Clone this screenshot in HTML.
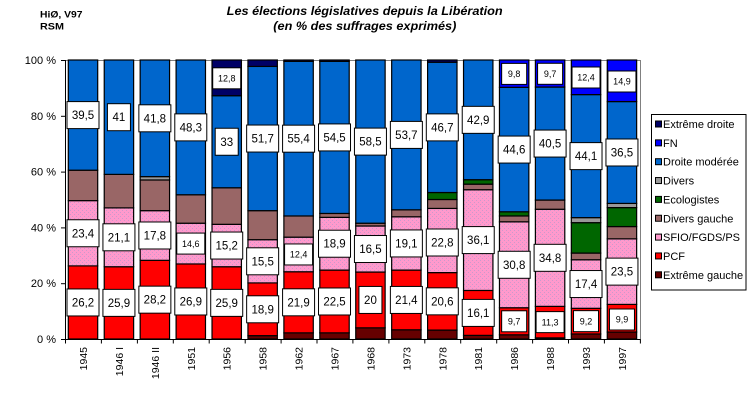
<!DOCTYPE html>
<html>
<head>
<meta charset="utf-8">
<style>
  html,body{margin:0;padding:0;background:#fff;}
  svg{display:block;font-family:"Liberation Sans", Arial, sans-serif;}
  .L rect{fill:#fff;stroke:#000;stroke-width:1;}
  .L text{font-size:11.5px;text-anchor:middle;fill:#000;}
  .S rect{fill:#fff;stroke:#000;stroke-width:1;}
  .S text{font-size:9px;text-anchor:middle;fill:#000;}
  .yl{font-size:11px;text-anchor:end;}
  .xl{font-size:10.5px;text-anchor:end;}
  .lg{font-size:11px;}
</style>
</head>
<body>
<svg width="750" height="400" viewBox="0 0 750 400" xmlns="http://www.w3.org/2000/svg">
  <defs>
    <pattern id="pk" width="4" height="4" patternUnits="userSpaceOnUse">
      <rect width="4" height="4" fill="#FF99CC"/>
      <rect x="0" y="0" width="1" height="1" fill="#CC99CC"/>
      <rect x="2" y="2" width="1" height="1" fill="#CC99CC"/>
    </pattern>
  </defs>
  <rect width="750" height="400" fill="#fff"/>

  <!-- header -->
  <text x="40" y="17.3" font-size="9.5" font-weight="bold" textLength="42.5" lengthAdjust="spacingAndGlyphs">HiØ, V97</text>
  <text x="40" y="29.3" font-size="9.5" font-weight="bold" textLength="24" lengthAdjust="spacingAndGlyphs">RSM</text>

  <!-- title -->
  <text x="226.7" y="15" font-size="12" font-weight="bold" font-style="italic" textLength="276" lengthAdjust="spacingAndGlyphs">Les élections législatives depuis la Libération</text>
  <text x="273.3" y="30" font-size="12" font-weight="bold" font-style="italic" textLength="183" lengthAdjust="spacingAndGlyphs">(en % des suffrages exprimés)</text>

  <!-- plot frame -->
  <line x1="65" y1="60.5" x2="640.5" y2="60.5" stroke="#808080" stroke-width="1"/>
  <line x1="640.5" y1="60" x2="640.5" y2="339" stroke="#808080" stroke-width="1"/>

  <!-- bars -->
  <g stroke="#000" stroke-width="1.2">
    <!-- 1945 -->
    <rect x="68.3" y="265.9" width="29.4" height="73.1" fill="#FF0000"/>
    <rect x="68.3" y="200.62" width="29.4" height="65.28" fill="url(#pk)"/>
    <rect x="68.3" y="170.2" width="29.4" height="30.42" fill="#996666"/>
    <rect x="68.3" y="60" width="29.4" height="110.2" fill="#0066CC"/>
    <!-- 1946 I -->
    <rect x="104.23" y="266.74" width="29.4" height="72.26" fill="#FF0000"/>
    <rect x="104.23" y="207.87" width="29.4" height="58.87" fill="url(#pk)"/>
    <rect x="104.23" y="174.39" width="29.4" height="33.48" fill="#996666"/>
    <rect x="104.23" y="60" width="29.4" height="114.39" fill="#0066CC"/>
    <!-- 1946 II -->
    <rect x="140.16" y="260.32" width="29.4" height="78.68" fill="#FF0000"/>
    <rect x="140.16" y="210.66" width="29.4" height="49.66" fill="url(#pk)"/>
    <rect x="140.16" y="179.97" width="29.4" height="30.69" fill="#996666"/>
    <rect x="140.16" y="176.62" width="29.4" height="3.35" fill="#999999"/>
    <rect x="140.16" y="60" width="29.4" height="116.62" fill="#0066CC"/>
    <!-- 1951 -->
    <rect x="176.09" y="263.95" width="29.4" height="75.05" fill="#FF0000"/>
    <rect x="176.09" y="223.21" width="29.4" height="40.74" fill="url(#pk)"/>
    <rect x="176.09" y="194.76" width="29.4" height="28.45" fill="#996666"/>
    <rect x="176.09" y="60" width="29.4" height="134.76" fill="#0066CC"/>
    <!-- 1956 -->
    <rect x="212.02" y="266.74" width="29.4" height="72.26" fill="#FF0000"/>
    <rect x="212.02" y="224.33" width="29.4" height="42.41" fill="url(#pk)"/>
    <rect x="212.02" y="187.78" width="29.4" height="36.55" fill="#996666"/>
    <rect x="212.02" y="95.71" width="29.4" height="92.07" fill="#0066CC"/>
    <rect x="212.02" y="60" width="29.4" height="35.71" fill="#000066"/>
    <!-- 1958 -->
    <rect x="247.95" y="335.65" width="29.4" height="3.35" fill="#660000"/>
    <rect x="247.95" y="282.92" width="29.4" height="52.73" fill="#FF0000"/>
    <rect x="247.95" y="239.68" width="29.4" height="43.24" fill="url(#pk)"/>
    <rect x="247.95" y="210.66" width="29.4" height="29.02" fill="#996666"/>
    <rect x="247.95" y="66.42" width="29.4" height="144.24" fill="#0066CC"/>
    <rect x="247.95" y="60" width="29.4" height="6.42" fill="#000066"/>
    <!-- 1962 -->
    <rect x="283.88" y="332.86" width="29.4" height="6.14" fill="#660000"/>
    <rect x="283.88" y="271.76" width="29.4" height="61.1" fill="#FF0000"/>
    <rect x="283.88" y="237.16" width="29.4" height="34.6" fill="url(#pk)"/>
    <rect x="283.88" y="215.96" width="29.4" height="21.2" fill="#996666"/>
    <rect x="283.88" y="61.39" width="29.4" height="154.57" fill="#0066CC"/>
    <rect x="283.88" y="60" width="29.4" height="1.39" fill="#000066"/>
    <!-- 1967 -->
    <rect x="319.81" y="332.86" width="29.4" height="6.14" fill="#660000"/>
    <rect x="319.81" y="270.09" width="29.4" height="62.77" fill="#FF0000"/>
    <rect x="319.81" y="217.36" width="29.4" height="52.73" fill="url(#pk)"/>
    <rect x="319.81" y="213.45" width="29.4" height="3.91" fill="#996666"/>
    <rect x="319.81" y="61.39" width="29.4" height="152.06" fill="#0066CC"/>
    <rect x="319.81" y="60" width="29.4" height="1.39" fill="#000066"/>
    <!-- 1968 -->
    <rect x="355.74" y="327.84" width="29.4" height="11.16" fill="#660000"/>
    <rect x="355.74" y="272.04" width="29.4" height="55.8" fill="#FF0000"/>
    <rect x="355.74" y="226" width="29.4" height="46.04" fill="url(#pk)"/>
    <rect x="355.74" y="223.21" width="29.4" height="2.79" fill="#996666"/>
    <rect x="355.74" y="60" width="29.4" height="163.21" fill="#0066CC"/>
    <!-- 1973 -->
    <rect x="391.67" y="329.79" width="29.4" height="9.21" fill="#660000"/>
    <rect x="391.67" y="270.09" width="29.4" height="59.7" fill="#FF0000"/>
    <rect x="391.67" y="216.8" width="29.4" height="53.29" fill="url(#pk)"/>
    <rect x="391.67" y="209.82" width="29.4" height="6.98" fill="#996666"/>
    <rect x="391.67" y="60" width="29.4" height="149.82" fill="#0066CC"/>
    <!-- 1978 -->
    <rect x="427.6" y="330.07" width="29.4" height="8.93" fill="#660000"/>
    <rect x="427.6" y="272.6" width="29.4" height="57.47" fill="#FF0000"/>
    <rect x="427.6" y="208.43" width="29.4" height="64.17" fill="url(#pk)"/>
    <rect x="427.6" y="199.5" width="29.4" height="8.93" fill="#996666"/>
    <rect x="427.6" y="192.52" width="29.4" height="6.98" fill="#006600"/>
    <rect x="427.6" y="62.23" width="29.4" height="130.29" fill="#0066CC"/>
    <rect x="427.6" y="60" width="29.4" height="2.23" fill="#000066"/>
    <!-- 1981 -->
    <rect x="463.53" y="335.37" width="29.4" height="3.63" fill="#660000"/>
    <rect x="463.53" y="290.45" width="29.4" height="44.92" fill="#FF0000"/>
    <rect x="463.53" y="189.73" width="29.4" height="100.72" fill="url(#pk)"/>
    <rect x="463.53" y="184.15" width="29.4" height="5.58" fill="#996666"/>
    <rect x="463.53" y="179.69" width="29.4" height="4.46" fill="#006600"/>
    <rect x="463.53" y="60" width="29.4" height="119.69" fill="#0066CC"/>
    <!-- 1986 -->
    <rect x="499.46" y="334.81" width="29.4" height="4.19" fill="#660000"/>
    <rect x="499.46" y="307.75" width="29.4" height="27.06" fill="#FF0000"/>
    <rect x="499.46" y="221.82" width="29.4" height="85.93" fill="url(#pk)"/>
    <rect x="499.46" y="215.96" width="29.4" height="5.86" fill="#996666"/>
    <rect x="499.46" y="211.78" width="29.4" height="4.18" fill="#006600"/>
    <rect x="499.46" y="87.34" width="29.4" height="124.44" fill="#0066CC"/>
    <rect x="499.46" y="60" width="29.4" height="27.34" fill="#0000FF"/>
    <!-- 1988 -->
    <rect x="535.39" y="337.88" width="29.4" height="1.12" fill="#660000"/>
    <rect x="535.39" y="306.36" width="29.4" height="31.52" fill="#FF0000"/>
    <rect x="535.39" y="209.26" width="29.4" height="97.1" fill="url(#pk)"/>
    <rect x="535.39" y="200.06" width="29.4" height="9.2" fill="#996666"/>
    <rect x="535.39" y="87.06" width="29.4" height="113" fill="#0066CC"/>
    <rect x="535.39" y="60" width="29.4" height="27.06" fill="#0000FF"/>
    <!-- 1993 -->
    <rect x="571.32" y="333.98" width="29.4" height="5.02" fill="#660000"/>
    <rect x="571.32" y="308.31" width="29.4" height="25.67" fill="#FF0000"/>
    <rect x="571.32" y="259.76" width="29.4" height="48.55" fill="url(#pk)"/>
    <rect x="571.32" y="253.07" width="29.4" height="6.69" fill="#996666"/>
    <rect x="571.32" y="222.66" width="29.4" height="30.41" fill="#006600"/>
    <rect x="571.32" y="217.63" width="29.4" height="5.03" fill="#999999"/>
    <rect x="571.32" y="94.6" width="29.4" height="123.03" fill="#0066CC"/>
    <rect x="571.32" y="60" width="29.4" height="34.6" fill="#0000FF"/>
    <!-- 1997 -->
    <rect x="607.25" y="332.02" width="29.4" height="6.98" fill="#660000"/>
    <rect x="607.25" y="304.4" width="29.4" height="27.62" fill="#FF0000"/>
    <rect x="607.25" y="238.84" width="29.4" height="65.56" fill="url(#pk)"/>
    <rect x="607.25" y="226.56" width="29.4" height="12.28" fill="#996666"/>
    <rect x="607.25" y="207.59" width="29.4" height="18.97" fill="#006600"/>
    <rect x="607.25" y="203.41" width="29.4" height="4.18" fill="#999999"/>
    <rect x="607.25" y="101.57" width="29.4" height="101.84" fill="#0066CC"/>
    <rect x="607.25" y="60" width="29.4" height="41.57" fill="#0000FF"/>
  </g>

  <!-- axes -->
  <line x1="65.5" y1="60" x2="65.5" y2="339.5" stroke="#000" stroke-width="1"/>
  <line x1="65" y1="339.5" x2="640.5" y2="339.5" stroke="#000" stroke-width="1"/>
  <g stroke="#000" stroke-width="1">
    <line x1="61" y1="60.5" x2="65" y2="60.5"/>
    <line x1="61" y1="116.3" x2="65" y2="116.3"/>
    <line x1="61" y1="172.1" x2="65" y2="172.1"/>
    <line x1="61" y1="227.9" x2="65" y2="227.9"/>
    <line x1="61" y1="283.7" x2="65" y2="283.7"/>
    <line x1="61" y1="339.5" x2="65" y2="339.5"/>
    <line x1="65.5" y1="339" x2="65.5" y2="343.5"/>
    <line x1="101.4" y1="339" x2="101.4" y2="343.5"/>
    <line x1="137.4" y1="339" x2="137.4" y2="343.5"/>
    <line x1="173.3" y1="339" x2="173.3" y2="343.5"/>
    <line x1="209.2" y1="339" x2="209.2" y2="343.5"/>
    <line x1="245.2" y1="339" x2="245.2" y2="343.5"/>
    <line x1="281.1" y1="339" x2="281.1" y2="343.5"/>
    <line x1="317" y1="339" x2="317" y2="343.5"/>
    <line x1="352.9" y1="339" x2="352.9" y2="343.5"/>
    <line x1="388.9" y1="339" x2="388.9" y2="343.5"/>
    <line x1="424.8" y1="339" x2="424.8" y2="343.5"/>
    <line x1="460.7" y1="339" x2="460.7" y2="343.5"/>
    <line x1="496.7" y1="339" x2="496.7" y2="343.5"/>
    <line x1="532.6" y1="339" x2="532.6" y2="343.5"/>
    <line x1="568.5" y1="339" x2="568.5" y2="343.5"/>
    <line x1="604.4" y1="339" x2="604.4" y2="343.5"/>
    <line x1="640.4" y1="339" x2="640.4" y2="343.5"/>
  </g>

  <!-- y labels -->
  <text class="yl" x="56" y="64">100 %</text>
  <text class="yl" x="56" y="119.8">80 %</text>
  <text class="yl" x="56" y="175.6">60 %</text>
  <text class="yl" x="56" y="231.4">40 %</text>
  <text class="yl" x="56" y="287.2">20 %</text>
  <text class="yl" x="56" y="343">0 %</text>

  <!-- x labels -->
  <text class="xl" transform="translate(87,347) rotate(-90)">1945</text>
  <text class="xl" transform="translate(122.9,347) rotate(-90)">1946 I</text>
  <text class="xl" transform="translate(158.9,347) rotate(-90)">1946 II</text>
  <text class="xl" transform="translate(194.8,347) rotate(-90)">1951</text>
  <text class="xl" transform="translate(230.7,347) rotate(-90)">1956</text>
  <text class="xl" transform="translate(266.7,347) rotate(-90)">1958</text>
  <text class="xl" transform="translate(302.6,347) rotate(-90)">1962</text>
  <text class="xl" transform="translate(338.5,347) rotate(-90)">1967</text>
  <text class="xl" transform="translate(374.4,347) rotate(-90)">1968</text>
  <text class="xl" transform="translate(410.4,347) rotate(-90)">1973</text>
  <text class="xl" transform="translate(446.3,347) rotate(-90)">1978</text>
  <text class="xl" transform="translate(482.2,347) rotate(-90)">1981</text>
  <text class="xl" transform="translate(518.2,347) rotate(-90)">1986</text>
  <text class="xl" transform="translate(554.1,347) rotate(-90)">1988</text>
  <text class="xl" transform="translate(590,347) rotate(-90)">1993</text>
  <text class="xl" transform="translate(626,347) rotate(-90)">1997</text>

  <!-- value labels -->
  <!-- 1945 -->
  <g class="L" transform="translate(83,302.45)"><rect x="-16" y="-13.5" width="32" height="27"/><text y="4">26,2</text></g>
  <g class="L" transform="translate(83,233.26)"><rect x="-16" y="-13.5" width="32" height="27"/><text y="4">23,4</text></g>
  <g class="L" transform="translate(83,115.1)"><rect x="-16" y="-13.5" width="32" height="27"/><text y="4">39,5</text></g>
  <!-- 1946 I -->
  <g class="L" transform="translate(118.93,302.87)"><rect x="-16" y="-13.5" width="32" height="27"/><text y="4">25,9</text></g>
  <g class="L" transform="translate(118.93,237.3)"><rect x="-16" y="-13.5" width="32" height="27"/><text y="4">21,1</text></g>
  <g class="L" transform="translate(118.93,117.2)"><rect x="-11.5" y="-13.5" width="23" height="27"/><text y="4">41</text></g>
  <!-- 1946 II -->
  <g class="L" transform="translate(154.86,299.66)"><rect x="-16" y="-13.5" width="32" height="27"/><text y="4">28,2</text></g>
  <g class="L" transform="translate(154.86,235.49)"><rect x="-16" y="-13.5" width="32" height="27"/><text y="4">17,8</text></g>
  <g class="L" transform="translate(154.86,118.31)"><rect x="-16" y="-13.5" width="32" height="27"/><text y="4">41,8</text></g>
  <!-- 1951 -->
  <g class="L" transform="translate(190.79,301.48)"><rect x="-16" y="-13.5" width="32" height="27"/><text y="4">26,9</text></g>
  <g class="S" transform="translate(190.79,243.58)"><rect x="-14" y="-10.5" width="28" height="21"/><text y="3.2">14,6</text></g>
  <g class="L" transform="translate(190.79,127.38)"><rect x="-16" y="-13.5" width="32" height="27"/><text y="4">48,3</text></g>
  <!-- 1956 -->
  <g class="L" transform="translate(226.72,302.87)"><rect x="-16" y="-13.5" width="32" height="27"/><text y="4">25,9</text></g>
  <g class="L" transform="translate(226.72,245.54)"><rect x="-16" y="-13.5" width="32" height="27"/><text y="4">15,2</text></g>
  <g class="L" transform="translate(226.72,141.75)"><rect x="-11.5" y="-13.5" width="23" height="27"/><text y="4">33</text></g>
  <g class="S" transform="translate(226.72,78.3)"><rect x="-14" y="-10.5" width="28" height="21"/><text y="3.2">12,8</text></g>
  <!-- 1958 -->
  <g class="L" transform="translate(262.65,309.29)"><rect x="-16" y="-13.5" width="32" height="27"/><text y="4">18,9</text></g>
  <g class="L" transform="translate(262.65,261.3)"><rect x="-16" y="-13.5" width="32" height="27"/><text y="4">15,5</text></g>
  <g class="L" transform="translate(262.65,138.54)"><rect x="-16" y="-13.5" width="32" height="27"/><text y="4">51,7</text></g>
  <!-- 1962 -->
  <g class="L" transform="translate(298.58,302.31)"><rect x="-16" y="-13.5" width="32" height="27"/><text y="4">21,9</text></g>
  <g class="S" transform="translate(298.58,254.46)"><rect x="-14" y="-10.5" width="28" height="21"/><text y="3.2">12,4</text></g>
  <g class="L" transform="translate(298.58,138.68)"><rect x="-16" y="-13.5" width="32" height="27"/><text y="4">55,4</text></g>
  <!-- 1967 -->
  <g class="L" transform="translate(334.51,301.48)"><rect x="-16" y="-13.5" width="32" height="27"/><text y="4">22,5</text></g>
  <g class="L" transform="translate(334.51,243.73)"><rect x="-16" y="-13.5" width="32" height="27"/><text y="4">18,9</text></g>
  <g class="L" transform="translate(334.51,137.42)"><rect x="-16" y="-13.5" width="32" height="27"/><text y="4">54,5</text></g>
  <!-- 1968 -->
  <g class="L" transform="translate(370.44,299.94)"><rect x="-11.5" y="-13.5" width="23" height="27"/><text y="4">20</text></g>
  <g class="L" transform="translate(370.44,249.02)"><rect x="-16" y="-13.5" width="32" height="27"/><text y="4">16,5</text></g>
  <g class="L" transform="translate(370.44,141.6)"><rect x="-16" y="-13.5" width="32" height="27"/><text y="4">58,5</text></g>
  <!-- 1973 -->
  <g class="L" transform="translate(406.37,299.94)"><rect x="-16" y="-13.5" width="32" height="27"/><text y="4">21,4</text></g>
  <g class="L" transform="translate(406.37,243.45)"><rect x="-16" y="-13.5" width="32" height="27"/><text y="4">19,1</text></g>
  <g class="L" transform="translate(406.37,134.91)"><rect x="-16" y="-13.5" width="32" height="27"/><text y="4">53,7</text></g>
  <!-- 1978 -->
  <g class="L" transform="translate(442.3,301.34)"><rect x="-16" y="-13.5" width="32" height="27"/><text y="4">20,6</text></g>
  <g class="L" transform="translate(442.3,242.5)"><rect x="-16" y="-13.5" width="32" height="27"/><text y="4">22,8</text></g>
  <g class="L" transform="translate(442.3,127.38)"><rect x="-16" y="-13.5" width="32" height="27"/><text y="4">46,7</text></g>
  <!-- 1981 -->
  <g class="L" transform="translate(478.23,312.91)"><rect x="-16" y="-13.5" width="32" height="27"/><text y="4">16,1</text></g>
  <g class="L" transform="translate(478.23,240.09)"><rect x="-16" y="-13.5" width="32" height="27"/><text y="4">36,1</text></g>
  <g class="L" transform="translate(478.23,119.85)"><rect x="-16" y="-13.5" width="32" height="27"/><text y="4">42,9</text></g>
  <!-- 1986 -->
  <g class="S" transform="translate(514.16,321.28)"><rect x="-12.5" y="-10.5" width="25" height="21"/><text y="3.2">9,7</text></g>
  <g class="L" transform="translate(514.16,264.79)"><rect x="-16" y="-13.5" width="32" height="27"/><text y="4">30,8</text></g>
  <g class="L" transform="translate(514.16,149.56)"><rect x="-16" y="-13.5" width="32" height="27"/><text y="4">44,6</text></g>
  <g class="S" transform="translate(514.16,73.9)"><rect x="-12.5" y="-10.5" width="25" height="21"/><text y="3.2">9,8</text></g>
  <!-- 1988 -->
  <g class="S" transform="translate(550.09,322.12)"><rect x="-14" y="-10.5" width="28" height="21"/><text y="3.2">11,3</text></g>
  <g class="L" transform="translate(550.09,257.81)"><rect x="-16" y="-13.5" width="32" height="27"/><text y="4">34,8</text></g>
  <g class="L" transform="translate(550.09,143.56)"><rect x="-16" y="-13.5" width="32" height="27"/><text y="4">40,5</text></g>
  <g class="S" transform="translate(550.09,73.8)"><rect x="-12.5" y="-10.5" width="25" height="21"/><text y="3.2">9,7</text></g>
  <!-- 1993 -->
  <g class="S" transform="translate(586.02,321.15)"><rect x="-12.5" y="-10.5" width="25" height="21"/><text y="3.2">9,2</text></g>
  <g class="L" transform="translate(586.02,284.04)"><rect x="-16" y="-13.5" width="32" height="27"/><text y="4">17,4</text></g>
  <g class="L" transform="translate(586.02,156.12)"><rect x="-16" y="-13.5" width="32" height="27"/><text y="4">44,1</text></g>
  <g class="S" transform="translate(586.02,77.5)"><rect x="-14" y="-10.5" width="28" height="21"/><text y="3.2">12,4</text></g>
  <!-- 1997 -->
  <g class="S" transform="translate(621.95,319.5)"><rect x="-12.5" y="-10.5" width="25" height="21"/><text y="3.2">9,9</text></g>
  <g class="L" transform="translate(621.95,271.62)"><rect x="-16" y="-13.5" width="32" height="27"/><text y="4">23,5</text></g>
  <g class="L" transform="translate(621.95,152.49)"><rect x="-16" y="-13.5" width="32" height="27"/><text y="4">36,5</text></g>
  <g class="S" transform="translate(621.95,81.5)"><rect x="-14" y="-10.5" width="28" height="21"/><text y="3.2">14,9</text></g>

  <!-- legend -->
  <rect x="651.5" y="114.5" width="94.5" height="175.5" fill="#fff" stroke="#000" stroke-width="1"/>
  <g stroke="#000" stroke-width="1">
    <rect x="655.5" y="121" width="6" height="6" fill="#000066"/>
    <rect x="655.5" y="139.85" width="6" height="6" fill="#0000FF"/>
    <rect x="655.5" y="158.7" width="6" height="6" fill="#0066CC"/>
    <rect x="655.5" y="177.55" width="6" height="6" fill="#999999"/>
    <rect x="655.5" y="196.4" width="6" height="6" fill="#006600"/>
    <rect x="655.5" y="215.25" width="6" height="6" fill="#996666"/>
    <rect x="655.5" y="234.1" width="6" height="6" fill="#FF99CC"/>
    <rect x="655.5" y="252.95" width="6" height="6" fill="#FF0000"/>
    <rect x="655.5" y="271.8" width="6" height="6" fill="#660000"/>
  </g>
  <text class="lg" x="663" y="128">Extrême droite</text>
  <text class="lg" x="663" y="146.85">FN</text>
  <text class="lg" x="663" y="165.7">Droite modérée</text>
  <text class="lg" x="663" y="184.55">Divers</text>
  <text class="lg" x="663" y="203.4">Ecologistes</text>
  <text class="lg" x="663" y="222.25">Divers gauche</text>
  <text class="lg" x="663" y="241.1">SFIO/FGDS/PS</text>
  <text class="lg" x="663" y="259.95">PCF</text>
  <text class="lg" x="663" y="278.8">Extrême gauche</text>
</svg>
</body>
</html>
